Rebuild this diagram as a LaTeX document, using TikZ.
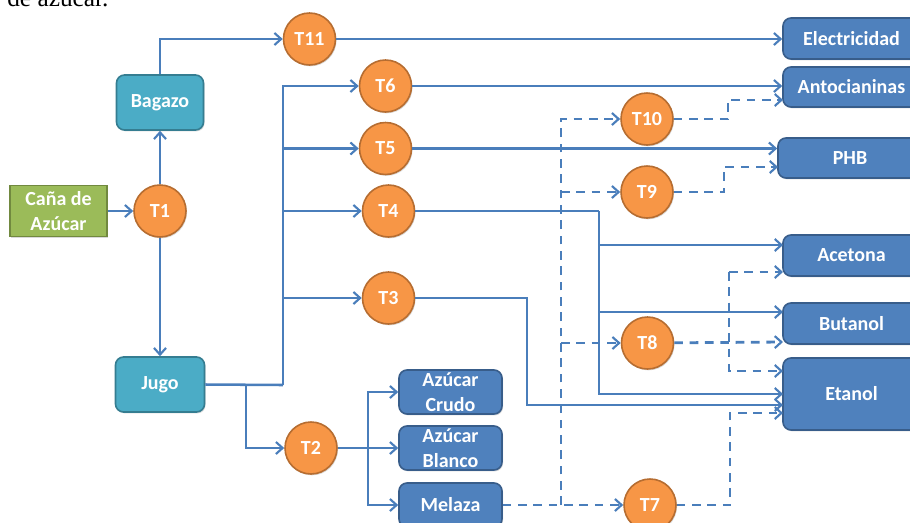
\documentclass[tikz,border=0pt]{standalone}
\usepackage{fontspec}
\newfontfamily\lbl{Carlito}
\newfontfamily\serifx{Liberation Serif}
\usetikzlibrary{arrows.meta,shadows}
\definecolor{lineblue}{HTML}{4A7EBB}
\definecolor{boxblue}{HTML}{4F81BD}
\definecolor{boxedge}{HTML}{385D8A}
\definecolor{tealf}{HTML}{4BACC6}
\definecolor{teale}{HTML}{357D91}
\definecolor{greenf}{HTML}{9BBB59}
\definecolor{greene}{HTML}{71893F}
\definecolor{orangef}{HTML}{F79646}
\definecolor{orangee}{HTML}{B66D31}
\tikzset{
  conn/.style={draw=lineblue, line width=1.9pt, -{Straight Barb[length=5pt,width=9pt,line width=1.6pt]}},
  plainc/.style={draw=lineblue, line width=1.9pt},
  dconn/.style={conn, line width=2.1pt, dash pattern=on 6.5pt off 5pt},
  shd/.style={drop shadow={opacity=0.3, shadow xshift=0.8pt, shadow yshift=-1pt}},
  lblfont/.style={font=\lbl\bfseries\fontsize{15}{18.5}\selectfont, text=white, align=center},
  prod/.style={lblfont, shd, rounded corners=6pt, draw=boxedge, line width=1.2pt, fill=boxblue, inner sep=0pt},
  inter/.style={lblfont, shd, rounded corners=6pt, draw=teale, line width=1.2pt, fill=tealf, inner sep=0pt, minimum width=65.25pt, minimum height=41.25pt},
  proc/.style={lblfont, shd, circle, draw=orangee, line width=1.2pt, fill=orangef, inner sep=0pt, minimum size=39pt},
}
\begin{document}
\begin{tikzpicture}[x=0.75pt,y=-0.75pt]
\useasboundingbox (0,0) rectangle (910,522);
% caption fragment
\node[font=\serifx\fontsize{19}{20}\selectfont, anchor=base west, inner sep=0pt] (cap) at (7,6) {de azúcar.};
% source and intermediates
\node[lblfont, shd, draw=greene, line width=1.2pt, fill=greenf, inner sep=0pt, minimum width=72.75pt, minimum height=38.25pt] (Cana) at (58.5,211) {Caña de\\Azúcar};
\node[inter] (Bagazo) at (160,102.5) {Bagazo};
\node[inter, minimum width=66.75pt] (Jugo) at (160,384.5) {Jugo};
% processes
\node[proc] (T1) at (160,211) {T1};
\node[proc] (T11) at (309.5,39) {T11};
\node[proc] (T6) at (385.5,86) {T6};
\node[proc] (T5) at (385.5,148.5) {T5};
\node[proc] (T4) at (388.5,211) {T4};
\node[proc] (T3) at (388.5,298) {T3};
\node[proc] (T2) at (311,448) {T2};
\node[proc] (T10) at (647,119) {T10};
\node[proc] (T9) at (647,192) {T9};
\node[proc] (T8) at (647.5,343) {T8};
\node[proc] (T7) at (650,505) {T7};
% products
\node[prod, minimum width=102.75pt, minimum height=30.75pt] (Elec) at (851.5,38.5) {Electricidad};
\node[prod, minimum width=102.75pt, minimum height=30pt] (Anto) at (851.5,87) {Antocianinas};
\node[prod, minimum width=108pt, minimum height=30pt] (PHB) at (850,158) {PHB};
\node[prod, minimum width=102.75pt, minimum height=30.75pt] (Acet) at (851.5,255.5) {Acetona};
\node[prod, minimum width=102.75pt, minimum height=30.75pt] (Buta) at (851.5,323.5) {Butanol};
\node[prod, minimum width=102.75pt, minimum height=54pt] (Etan) at (851.5,394) {Etanol};
\node[prod, minimum width=77.25pt, minimum height=33pt] (Crudo) at (450.5,392) {Azúcar\\Crudo};
\node[prod, minimum width=77.25pt, minimum height=33pt] (Blanco) at (450.5,448) {Azúcar\\Blanco};
\node[prod, minimum width=77.25pt, minimum height=33pt] (Melaza) at (450.5,505) {Melaza};
% routing points
\coordinate (jx) at (283,385);
\coordinate (jy) at (246,385);
\coordinate (t2x) at (368,448);
\coordinate (v4) at (599,211);
\coordinate (v3) at (527,298);
\coordinate (acIn) at (783,245);
\coordinate (buIn) at (783,312);
\coordinate (etInA) at (783,394);
\coordinate (etInB) at (783,405);
\coordinate (dvb) at (561,505);
\coordinate (dvt) at (561,119);
\coordinate (d9) at (561,192);
\coordinate (d8) at (561,343);
\coordinate (b10) at (728,119);
\coordinate (antIn2) at (783,100);
\coordinate (b9) at (724,192);
\coordinate (phbIn2) at (778,167);
\coordinate (b8t) at (729,272);
\coordinate (b8b) at (729,371);
\coordinate (acIn2) at (783,272);
\coordinate (buIn2) at (783,342);
\coordinate (etInC) at (783,371);
\coordinate (b7) at (730,505);
\coordinate (etInD) at (783,413);
% solid connectors
\draw[conn] (Cana) -- (T1);
\draw[conn] (T1) -- (Bagazo);
\draw[conn] (T1) -- (Jugo);
\draw[conn] (Bagazo.north) |- (T11);
\draw[conn] (T11) -- (T11 -| Elec.west);
\draw[plainc] (Jugo.east) -- (jx);
\draw[conn] (jx) |- (T6);
\draw[conn] (jx) |- (T5);
\draw[conn] (jx) |- (T4);
\draw[conn] (jx) |- (T3);
\draw[conn] (jy) |- (T2);
\draw[conn] (T6) -- (T6 -| Anto.west);
\draw[conn] (T5) -- (T5 -| PHB.west);
\draw[plainc] (T4) -- (v4);
\draw[conn] (v4) |- (acIn);
\draw[conn] (v4) |- (buIn);
\draw[conn] (v4) |- (etInA);
\draw[conn] (T3) -- (v3) |- (etInB);
\draw[plainc] (T2) -- (t2x);
\draw[conn] (t2x) |- (Crudo.west);
\draw[conn] (t2x) -- (Blanco.west);
\draw[conn] (t2x) |- (Melaza.west);
% dashed connectors
\draw[dconn] (Melaza) -- (T7);
\draw[dconn] (dvb) -- (dvt) -- (T10);
\draw[dconn] (d9) -- (T9);
\draw[dconn] (d8) -- (T8);
\draw[dconn] (T10) -- (b10) |- (antIn2);
\draw[dconn] (T9) -- (b9) |- (phbIn2);
\draw[dconn] (T8) -- (buIn2);
\draw[dconn] (b8t) -- (acIn2);
\draw[dconn] (b8t) -- (b8b) -- (etInC);
\draw[dconn] (T7) -- (b7) |- (etInD);
\end{tikzpicture}
\end{document}
